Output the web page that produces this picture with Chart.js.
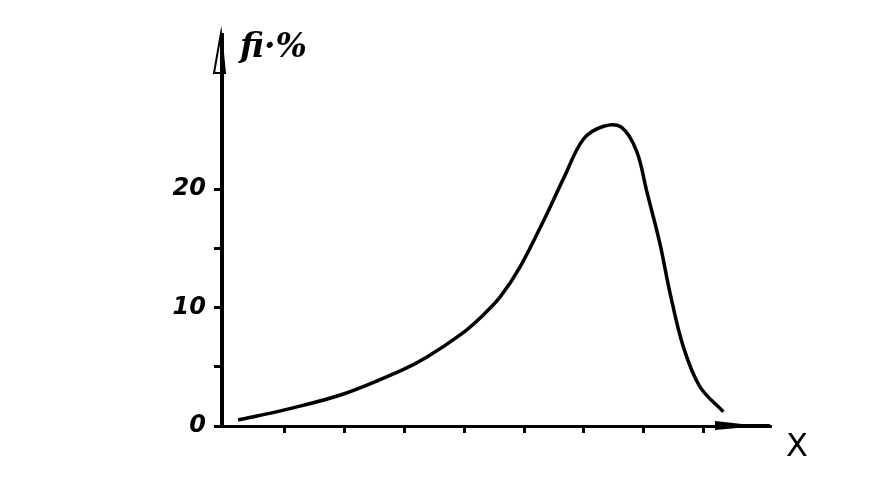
<!DOCTYPE html>
<html lang="ru">
<head>
  <meta charset="UTF-8" />
  <title>fi, %</title>
  <script src="https://cdn.jsdelivr.net/npm/chart.js"></script>
  <style>
    html, body { margin: 0; padding: 0; background: white; }
    #wrap { width: 874px; height: 487px; }
  </style>
</head>
<body>
  <div id="wrap"><canvas id="grafik" width="874" height="487"></canvas></div>

  <script>
    // values
    const xValues = [0.22, 1.03, 1.98, 2.95, 3.37, 3.96, 4.26, 4.60, 4.93, 5.38, 5.66, 5.99,
                     6.33, 6.63, 6.88, 7.05, 7.27, 7.44, 7.66, 7.94, 8.33];
    const fiValues = [0.5, 1.4, 2.7, 4.7, 5.8, 7.8, 9.1, 10.9, 13.4, 17.9, 20.9, 24.2,
                      25.3, 25.2, 23.2, 19.8, 15.4, 11.2, 6.7, 3.3, 1.2];
    const xTicks = [1, 2, 3, 4, 5, 6, 7, 8];
    const yTicks = [0, 5, 10, 15, 20];
    const yLabels = ["0", "", "10", "", "20"];
    const yTitle = "fi·%";
    const xTitle = "X";

    const points = xValues.map((x, i) => ({ x: x, y: fiValues[i] }));

    // arrows and axis captions
    const kartinka = {
      id: "kartinka",
      afterDraw(chart) {
        const ctx = chart.ctx;
        const a = chart.chartArea;
        const xs = chart.scales.x;
        const ys = chart.scales.y;
        const x0 = xs.getPixelForValue(xs.min);
        const y0 = ys.getPixelForValue(0);
        ctx.save();
        ctx.fillStyle = "#000";
        ctx.strokeStyle = "#000";
        // y arrow
        ctx.beginPath();
        ctx.moveTo(x0 - 1, a.top - 2);
        ctx.lineTo(x0 - 8, a.top + 38);
        ctx.lineTo(x0 + 3, a.top + 38);
        ctx.closePath();
        ctx.lineWidth = 2;
        ctx.stroke();
        // x arrow
        ctx.beginPath();
        ctx.moveTo(a.right - 10, y0);
        ctx.lineTo(a.right - 55, y0 - 5);
        ctx.lineTo(a.right - 55, y0 + 4);
        ctx.closePath();
        ctx.fill();
        ctx.fillRect(a.right - 55, y0 - 2, 55, 4);
        // captions
        ctx.font = "italic bold 33px 'DejaVu Serif'";
        ctx.textBaseline = "alphabetic";
        ctx.textAlign = "left";
        ctx.fillText(yTitle, x0 + 18, a.top + 22);
        ctx.font = "32px 'DejaVu Sans'";
        ctx.fillText(xTitle, a.right + 16, y0 + 30);
        ctx.restore();
      }
    };

    new Chart(document.getElementById("grafik"), {
      type: "line",
      data: {
        datasets: [{
          data: points,
          borderColor: "#000",
          borderWidth: 3.5,
          pointRadius: 0,
          fill: false,
          tension: 0.35
        }]
      },
      options: {
        responsive: false,
        animation: false,
        layout: { padding: { top: 35, right: 104, left: 0, bottom: 0 } },
        plugins: { legend: { display: false }, tooltip: { enabled: false } },
        scales: {
          x: {
            type: "linear",
            min: -0.05,
            max: 9.11,
            afterBuildTicks(s) { s.ticks = xTicks.map(v => ({ value: v })); },
            afterFit(s) { s.height = 61; },
            ticks: { display: false },
            grid: { display: true, drawOnChartArea: false, tickLength: 7, color: "#000", lineWidth: 3 },
            border: { display: true, color: "#000", width: 3 }
          },
          y: {
            type: "linear",
            min: 0,
            max: 33,
            afterBuildTicks(s) { s.ticks = yTicks.map(v => ({ value: v })); },
            afterFit(s) { s.width = 222; },
            ticks: {
              color: "#000",
              padding: 8,
              font: { family: "DejaVu Sans", size: 24, style: "italic", weight: "bold" },
              callback: (v) => yLabels[yTicks.indexOf(v)]
            },
            grid: { display: true, drawOnChartArea: false, tickLength: 8, color: "#000", lineWidth: 3 },
            border: { display: true, color: "#000", width: 4 }
          }
        }
      },
      plugins: [kartinka]
    });
  </script>
</body>
</html>
